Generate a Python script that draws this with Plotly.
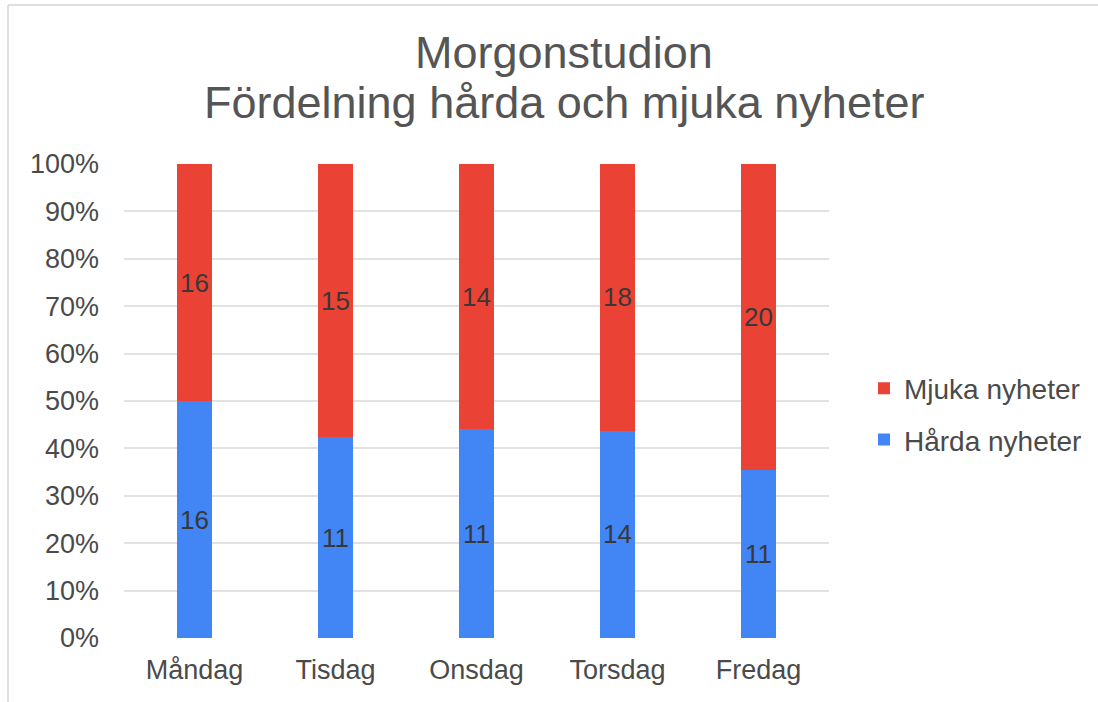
import plotly.graph_objects as go

days = ["Måndag", "Tisdag", "Onsdag", "Torsdag", "Fredag"]
harda = [16, 11, 11, 14, 11]
mjuka = [16, 15, 14, 18, 20]
title_lines = ["Morgonstudion", "Fördelning hårda och mjuka nyheter"]

FONT = "Liberation Sans, Arial, sans-serif"
W, H = 1098, 702
L, R, T, B = 124, 269, 164, 64
pw, ph = W - L - R, H - T - B

fig = go.Figure()
fig.add_trace(go.Bar(
    x=days, y=harda, name="Hårda nyheter", legendgroup="h", legendrank=2,
    marker_color="#4285F4",
    marker_line_width=0, text=harda, texttemplate="%{text}",
    textposition="inside", insidetextanchor="middle", textangle=0,
    insidetextfont=dict(family=FONT, size=26, color="#383838"),
    constraintext="none", hoverinfo="skip"))
fig.add_trace(go.Bar(
    x=days, y=mjuka, name="Mjuka nyheter", legendgroup="m", legendrank=1,
    marker_color="#EA4335",
    marker_line_width=0, text=mjuka, texttemplate="%{text}",
    textposition="inside", insidetextanchor="middle", textangle=0,
    insidetextfont=dict(family=FONT, size=26, color="#383838"),
    constraintext="none", hoverinfo="skip"))

fig.update_layout(
    width=W, height=H,
    margin=dict(l=L, r=R, t=T, b=B, autoexpand=False),
    paper_bgcolor="white", plot_bgcolor="white",
    barmode="stack", barnorm="percent", bargap=0.752,
    font=dict(family=FONT, color="#4a4a4a"),
    showlegend=True,
    legend=dict(x=(864 - L) / pw, xanchor="left", y=0.5 - 13 / ph, yanchor="middle",
                traceorder="grouped", font=dict(size=28, color="#4a4a4a"),
                itemwidth=30, tracegroupgap=12, bgcolor="rgba(0,0,0,0)"),
    xaxis=dict(showgrid=False, showline=False, zeroline=False, ticks="",
               tickfont=dict(size=27, color="#4a4a4a"), ticklabelstandoff=13),
    yaxis=dict(range=[0, 100], dtick=10, ticksuffix="%", showgrid=True,
               gridcolor="#e2e2e2", gridwidth=1.5, zeroline=False, showline=False,
               ticks="", tickfont=dict(size=27, color="#4a4a4a"),
               ticklabelstandoff=24),
)

fig.add_annotation(text=title_lines[0], xref="paper", yref="paper",
                   x=(564 - L) / pw, y=1 + (T - 52) / ph, xanchor="center", yanchor="middle",
                   showarrow=False, font=dict(family=FONT, size=45, color="#555555"))
fig.add_annotation(text=title_lines[1], xref="paper", yref="paper",
                   x=(564 - L) / pw, y=1 + (T - 102) / ph, xanchor="center", yanchor="middle",
                   showarrow=False, font=dict(family=FONT, size=45, color="#555555"))

# frame lines of the screenshot
fig.add_shape(type="line", xref="paper", yref="paper",
              x0=(8 - L) / pw, x1=(W - L) / pw, y0=1 + (T - 5) / ph, y1=1 + (T - 5) / ph,
              line=dict(color="#d4d4d4", width=1.5))
fig.add_shape(type="line", xref="paper", yref="paper",
              x0=(8 - L) / pw, x1=(8 - L) / pw, y0=1 + (T - 5) / ph, y1=-B / ph,
              line=dict(color="#d4d4d4", width=1.5))

fig.write_html("out.html", config={"displayModeBar": False},
               post_script="document.body.style.margin='0';")
